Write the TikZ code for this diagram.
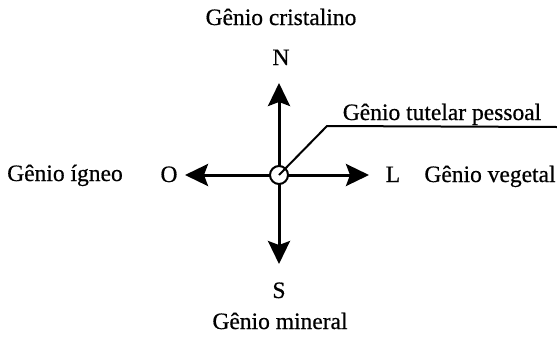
\documentclass[tikz,border=0pt]{standalone}
\usepackage{fontspec}
\setmainfont{Liberation Serif}
\newfontfamily\scanfont[FakeBold=0.6]{Liberation Serif}
\usetikzlibrary{arrows.meta}
\tikzset{
  lbl/.style={inner sep=0pt, anchor=base, font=\scanfont\fontsize{23.5}{28}\selectfont},
  dirarrow/.style={line width=3pt, -{Stealth[length=23pt,width=22pt,inset=4pt]}},
  hub/.style={circle, draw, line width=2pt, fill=white, minimum size=18pt, inner sep=0pt}
}
\begin{document}
\begin{tikzpicture}[x=1pt,y=-1pt]
\useasboundingbox (0,0) rectangle (557,341);
% labels
\node[lbl] (gc) at (281,25) {Gênio cristalino};
\node[lbl] (n) at (281,65) {N};
\node[lbl] (s) at (279,298) {S};
\node[lbl] (gm) at (280,329) {Gênio mineral};
\node[lbl] (o) at (169,182) {O};
\node[lbl] (l) at (393,182) {L};
\node[lbl] (gi) at (65,181) {Gênio ígneo};
\node[lbl] (gv) at (490,182) {Gênio vegetal};
\node[lbl] (gt) at (442,120) {Gênio tutelar pessoal};
% tips
\coordinate (tn) at (279,83);
\coordinate (ts) at (279,264);
\coordinate (to) at (185,175);
\coordinate (tl) at (369,175);
\coordinate (bend) at (327,126);
\coordinate (lineend) at (557,127);
\coordinate (ctr) at (279,175);
% arrows
\draw[dirarrow] (ctr) -- (tn);
\draw[dirarrow] (ctr) -- (ts);
\draw[dirarrow] (ctr) -- (to);
\draw[dirarrow] (ctr) -- (tl);
\node[hub] (c) at (ctr) {};
\draw[line width=2pt] (c.center) -- (bend) -- (lineend);
\end{tikzpicture}
\end{document}
